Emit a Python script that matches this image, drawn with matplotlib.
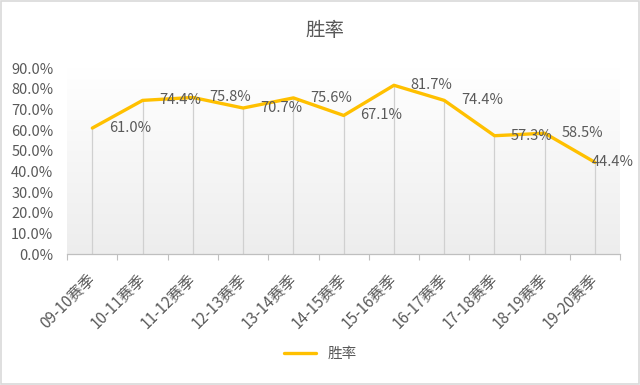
import numpy as np
import matplotlib.pyplot as plt
from matplotlib.patches import Rectangle
from matplotlib.ticker import FuncFormatter
from matplotlib.transforms import ScaledTranslation

plt.rcParams['font.family'] = ['Noto Sans CJK SC', 'DejaVu Sans']

seasons = ["09-10赛季", "10-11赛季", "11-12赛季", "12-13赛季", "13-14赛季", "14-15赛季",
           "15-16赛季", "16-17赛季", "17-18赛季", "18-19赛季", "19-20赛季"]
win_rate = [0.610, 0.744, 0.758, 0.707, 0.756, 0.671, 0.817, 0.744, 0.573, 0.585, 0.444]

text_col = "#595959"
line_col = "#FFC000"

fig = plt.figure(figsize=(6.4, 3.85), dpi=100)
ax = fig.add_axes([0.105, 0.340, 0.864, 0.483])

x = np.arange(len(seasons))

# background gradient in plot area
grad = np.linspace(1.0, 0.93, 256).reshape(-1, 1)
ax.imshow(np.dstack([grad, grad, grad]), extent=(-0.5, len(seasons) - 0.5, 0, 0.9),
          aspect="auto", zorder=0, origin="upper")

# drop lines
ax.vlines(x, 0, win_rate, color="#d0d0d0", lw=0.9, zorder=1)
ax.plot(x, win_rate, color=line_col, lw=2.4, zorder=3, label="胜率", solid_capstyle="round")

for xi, v in zip(x, win_rate):
    # last label is pulled back so it stays inside the chart (like Excel does)
    dx = 12 if xi < len(seasons) - 1 else -2
    ax.annotate(f"{v*100:.1f}%", (xi, v), xytext=(dx, 0), textcoords="offset points",
                va="center", ha="left", fontsize=10.5, color=text_col, zorder=4)

ax.set_xlim(-0.5, len(seasons) - 0.5)
ax.set_ylim(0, 0.9)
ax.set_yticks(np.arange(0, 0.91, 0.1))
ax.yaxis.set_major_formatter(FuncFormatter(lambda v, p: f"{v*100:.1f}%"))
ax.tick_params(axis="y", length=0, labelsize=10.5, labelcolor=text_col, pad=10)

ax.set_xticks(x)
ax.set_xticklabels(seasons, rotation=45, ha="right", rotation_mode="anchor",
                   fontsize=11, color=text_col)
ax.tick_params(axis="x", which="major", length=0, pad=9)
shift = ScaledTranslation(-4 / 72, -3 / 72, fig.dpi_scale_trans)
for lab in ax.get_xticklabels():
    lab.set_transform(lab.get_transform() + shift)
ax.set_xticks(np.arange(-0.5, len(seasons), 1), minor=True)
ax.tick_params(axis="x", which="minor", length=4, color="#bfbfbf", width=0.8)

for s in ["top", "right", "left"]:
    ax.spines[s].set_visible(False)
ax.spines["bottom"].set_color("#bfbfbf")
ax.spines["bottom"].set_linewidth(0.9)

fig.text(0.508, 0.92, "胜率", ha="center", va="center", fontsize=14, color=text_col)

fig.legend(loc="center", bbox_to_anchor=(0.5, 0.08), frameon=False, fontsize=10.5,
           labelcolor=text_col, handlelength=2.2)

fig.patches.append(Rectangle((0.002, 0.003), 0.996, 0.994, transform=fig.transFigure,
                             fill=False, edgecolor="#d9d9d9", lw=1.2))

fig.savefig("out.png", dpi=100, facecolor="white")
